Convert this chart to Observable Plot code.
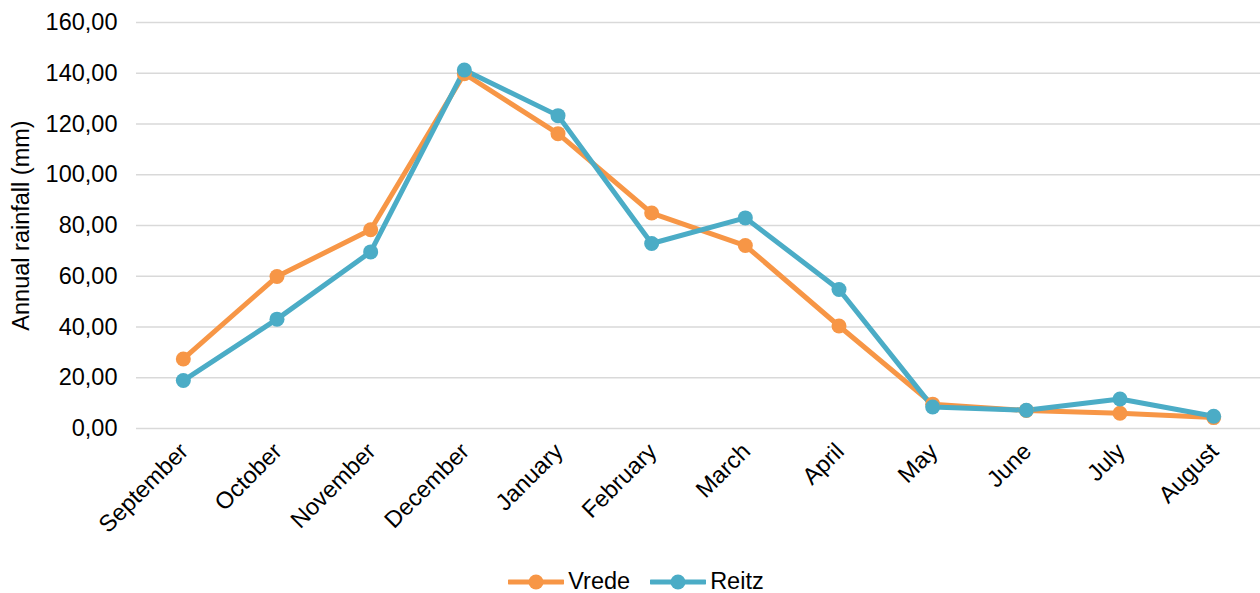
<!DOCTYPE html>
<html>
<head>
<meta charset="utf-8">
<script src="https://cdn.jsdelivr.net/npm/d3@7"></script>
<script src="https://cdn.jsdelivr.net/npm/@observablehq/plot@0.6"></script>
<style>
  html, body { margin: 0; padding: 0; background: #fff; }
  body { width: 1260px; height: 593px; overflow: hidden; font-family: "Liberation Sans", Arial, sans-serif; }
  #legend { display: flex; justify-content: center; align-items: center; height: 27px; font-size: 23.5px; color: #000; padding-left: 12px; }
  .item { display: flex; align-items: center; margin: 0 10px; }
  .item svg { margin-right: 4px; }
</style>
</head>
<body>
<div id="chart"></div>
<div id="legend"></div>
<script>
const months = ["September","October","November","December","January","February","March","April","May","June","July","August"];
const vrede = [27.4, 59.9, 78.3, 139.8, 116.2, 84.9, 72.1, 40.4, 9.6, 7.1, 6.0, 4.3];
const reitz = [18.9, 43.1, 69.6, 141.3, 123.3, 72.9, 83.0, 54.8, 8.5, 7.2, 11.6, 4.8];
const seriesNames = ["Vrede", "Reitz"];
const seriesColors = ["#F79646", "#4BACC6"];
const yTicks = [0, 20, 40, 60, 80, 100, 120, 140, 160];

const data = [];
months.forEach((m, i) => data.push({month: m, value: vrede[i], series: "Vrede"}));
months.forEach((m, i) => data.push({month: m, value: reitz[i], series: "Reitz"}));

const fmt = d => d.toFixed(2).replace(".", ",");

const chart = Plot.plot({
  width: 1260,
  height: 568,
  marginLeft: 136,
  marginRight: 0,
  marginTop: 22,
  marginBottom: 140,
  style: {fontFamily: "Liberation Sans, Arial, sans-serif", fontSize: "23.5px", color: "#000", background: "#fff"},
  x: {type: "point", domain: months, padding: 0.5, round: false, label: null},
  y: {domain: [0, 160], label: null},
  color: {domain: seriesNames, range: seriesColors},
  marks: [
    Plot.ruleY(yTicks, {stroke: "#d9d9d9", strokeWidth: 1.6}),
    Plot.axisY({ticks: yTicks, tickFormat: fmt, tickSize: 0, tickPadding: 19, label: "Annual rainfall (mm)", labelAnchor: "center", labelArrow: "none", labelOffset: 124, fontSize: 23.5}),
    Plot.axisX({tickSize: 0, tickRotate: -45, tickPadding: 19, dx: 1, fontSize: 23.5, label: null}),
    Plot.line(data, {x: "month", y: "value", z: "series", stroke: "series", strokeWidth: 5, strokeLinejoin: "round"}),
    Plot.dot(data, {x: "month", y: "value", fill: "series", r: 7.5})
  ]
});
document.getElementById("chart").appendChild(chart);

const legend = document.getElementById("legend");
seriesNames.forEach((name, i) => {
  const item = document.createElement("div");
  item.className = "item";
  item.innerHTML = `<svg width="56" height="20"><line x1="1" y1="10" x2="55" y2="10" stroke="${seriesColors[i]}" stroke-width="5" stroke-linecap="round"/><circle cx="28" cy="10" r="7.5" fill="${seriesColors[i]}"/></svg><span>${name}</span>`;
  legend.appendChild(item);
});
</script>
</body>
</html>
